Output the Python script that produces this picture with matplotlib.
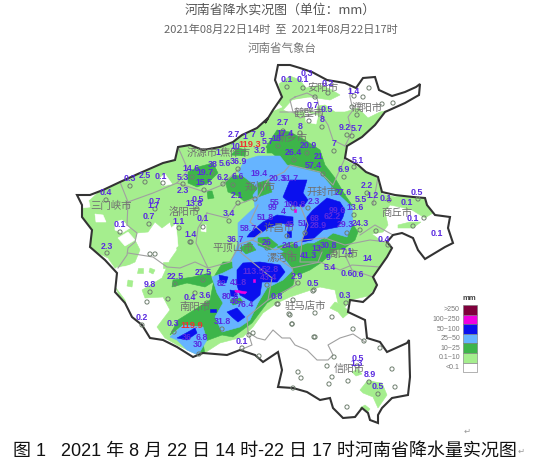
import matplotlib
matplotlib.use("Agg")
import matplotlib.pyplot as plt
from matplotlib.patches import Polygon, Rectangle

CJK = ['Noto Sans CJK SC', 'DejaVu Sans']
LATIN_CJK = ['Liberation Sans', 'Noto Sans CJK SC', 'DejaVu Sans']

COL_LG = '#A5EE8E'; COL_G = '#3DB54A'; COL_LB = '#66B4FF'; COL_B = '#0A10EE'; COL_M = '#F000E0'; COL_D = '#80003C'
COL_TXT = '#5A2BE0'; COL_CITY = '#707070'

province = [(278,65),(290,65),(300,68),(312,72),(327,80),(345,83),(356,88),(363,78),(375,77),(379,90),(392,96),(405,92),(416,87),(420,84),(419,95),(405,103),(385,112),(375,125),(362,137),(347,146),(345,158),(358,165),(366,172),(378,177),(382,192),(395,195),(413,197),(425,198),(427,205),(435,215),(450,217),(448,228),(453,243),(445,247),(425,259),(418,250),(413,238),(402,233),(393,235),(387,242),(392,248),(387,257),(380,267),(373,277),(377,285),(373,293),(363,302),(350,300),(348,312),(365,320),(367,338),(380,342),(387,352),(407,343),(409,340),(410,377),(408,395),(392,398),(382,408),(378,415),(378,423),(370,420),(368,413),(362,408),(355,417),(343,418),(333,408),(330,398),(320,400),(307,392),(293,388),(278,387),(282,370),(278,352),(263,362),(255,355),(240,350),(227,355),(203,353),(193,357),(177,347),(163,340),(150,338),(142,325),(132,317),(125,303),(115,292),(117,273),(105,260),(90,247),(92,230),(82,217),(82,205),(77,195),(90,195),(103,190),(120,182),(140,173),(163,163),(175,160),(178,147),(190,145),(203,150),(220,147),(233,142),(242,135),(257,128),(268,118),(265,123),(273,110),(282,97),(275,80)]

city_lines = [
 [(295,97),(307,93),(317,98),(320,112),(305,110),(293,112),(290,100),(295,97)],
 [(350,85),(350,97),(353,110),(348,117),(352,132),(345,146)],
 [(280,112),(293,112),(300,118),(320,112),(328,125),(333,140),(345,146)],
 [(127,225),(137,233),(135,242),(128,248),(127,255),(118,268)],
 [(128,253),(153,257),(167,267),(180,268),(195,262),(208,268)],
 [(128,202),(153,193),(177,183),(188,170),(178,147)],
 [(127,225),(128,202),(120,182)],
 [(177,183),(205,192),(222,185),(240,168)],
 [(207,213),(227,218),(236,205),(258,197),(268,180)],
 [(207,213),(198,228),(196,243),(208,268)],
 [(208,268),(230,262),(240,244),(252,240)],
 [(252,240),(262,232),(250,222),(258,205)],
 [(268,180),(284,172),(290,165),(320,172),(333,185),(345,158)],
 [(300,205),(308,225),(302,240),(325,238),(345,245),(370,240),(387,242)],
 [(252,240),(275,250),(302,240),(300,262),(318,262),(322,252)],
 [(277,258),(292,268),(320,262),(340,270),(352,265),(380,267)],
 [(240,252),(262,270),(272,278),(268,300),(247,317),(248,332),(252,345),(240,350)],
 [(292,268),(296,285),(268,300)],
 [(373,205),(378,177)],
 [(360,235),(375,225),(393,235)],
 [(248,332),(257,338),(265,340),(273,330),(282,338),(290,338),(295,345),(307,350),(317,360),(328,360),(333,355),(328,345),(340,338),(353,334),(365,342)],
 [(345,255),(352,270),(373,277)],
]

rain_light = [(279,84),(290,76),(300,80),(306,88),(320,85),(332,90),(340,95),(330,100),(310,97),(292,100),(283,110),(290,113),(305,108),(325,105),(335,112),(345,112),(358,108),(368,118),(380,112),(390,110),(372,128),(362,137),(347,146),(345,160),(358,167),(376,176),(382,194),(395,197),(400,196),(415,197),(425,198),(427,206),(433,213),(425,218),(412,210),(400,207),(390,205),(385,212),(388,225),(383,232),(372,234),(380,240),(387,243),(392,248),(387,257),(380,267),(375,272),(378,285),(368,296),(350,300),(345,307),(338,303),(335,290),(320,287),(290,297),(277,303),(263,313),(253,327),(243,337),(220,343),(200,356),(177,345),(165,338),(157,327),(170,310),(163,297),(145,298),(142,290),(162,278),(170,260),(177,250),(175,240),(170,222),(162,228),(155,222),(148,232),(137,233),(135,240),(140,250),(135,262),(122,268),(115,268),(108,258),(88,248),(88,232),(78,217),(78,205),(90,200),(103,188),(120,180),(140,171),(163,161),(175,158),(176,145),(190,143),(203,148),(220,145),(233,140),(242,133),(257,126),(270,116),(273,110),(282,97),(279,84)]
rain_light_extra = [
 [(335,302),(342,305),(350,312),(343,318),(338,312),(330,308)],
 [(360,390),(368,380),(375,382),(382,383),(387,395),(378,408),(373,397),(363,393)],
 [(360,408),(365,405),(370,409),(366,414)],
 [(352,372),(358,369),(362,374),(356,376)],
 [(398,225),(410,222),(421,222),(413,228),(398,228)],
 [(128,280),(133,281),(132,287),(127,286)],
 [(138,268),(143,268),(143,273),(137,273)],
 [(116,288),(125,300),(127,308),(120,298)],
 [(150,268),(155,270),(153,274),(149,272)],
 [(163,262),(168,262),(168,268),(163,268)],
]
rain_white = [
 [(78,200),(88,197),(90,207),(82,208)],
 [(95,214),(103,215),(106,222),(96,222)],
 [(115,222),(122,220),(130,228),(122,233),(115,230)],
 [(118,238),(128,232),(135,240),(125,246)],
 [(160,178),(165,174),(172,184),(162,186)],
 [(147,236),(165,233),(176,224),(178,246),(165,256),(150,250)],
 [(202,225),(206,225),(206,232),(201,231)],
 [(122,275),(132,265),(116,268)],
 [(295,100),(308,98),(318,100),(316,112),(303,111),(293,111)],
 [(260,97),(275,100),(282,107),(270,112)],
 [(305,112),(318,116),(316,124),(306,122)],
]
rain_mid = [
 [(266,147),(277,130),(290,132),(305,140),(320,150),(325,165),(335,178),(345,195),(352,205),(350,220),(358,232),(355,240),(345,248),(335,250),(322,262),(310,270),(298,275),(275,270),(262,250),(290,200),(290,170)],
 [(267,245),(283,243),(300,250),(296,272),(293,285),(287,290),(267,303),(252,323),(233,337),(222,335),(203,342),(205,355),(198,352),(180,327),(170,335),(178,320),(210,300),(215,275),(223,262),(237,262)],
 [(172,287),(173,280),(193,277),(210,273),(213,282),(205,287),(187,283)],
 [(188,172),(198,167),(213,163),(218,173),(208,183),(197,187),(188,183)],
 [(225,180),(235,175),(248,178),(265,182),(258,195),(245,202),(238,196),(228,192)],
 [(207,191),(212,191),(214,198),(208,199)],
 [(267,147),(283,143),(282,153),(267,153)],
 [(231,155),(238,148),(246,150),(245,156)],
]
rain_blue = [
 [(238,172),(245,160),(258,156),(280,156),(287,165),(320,173),(337,193),(352,207),(353,223),(347,237),(333,233),(320,243),(307,243),(297,247),(280,253),(293,270),(283,280),(267,288),(258,303),(250,320),(240,327),(222,332),(215,317),(223,303),(217,293),(212,277),(223,273),(233,268),(232,260),(238,243),(238,223),(255,207),(253,195),(258,188),(248,180)],
 [(170,337),(183,325),(203,327),(207,340),(198,355),(187,350),(177,340)],
]
rain_green_over = [
 [(258,183),(268,180),(272,192),(258,197)],
 [(258,238),(268,237),(278,245),(270,250),(258,245)],
 [(277,247),(292,242),(300,248),(288,254)],
 [(285,159),(292,157),(298,160),(291,163)],
 [(240,248),(250,242),(256,250),(246,254)],
 [(315,243),(325,238),(320,252),(312,250)],
 [(230,300),(240,298),(243,302),(233,305)],
]
rain_heavy = [
 [(283,197),(290,180),(307,180),(303,193),(308,200),(303,207),(292,205)],
 [(327,198),(340,202),(345,210),(343,217),(338,227),(323,230),(312,240),(302,242),(305,230),(307,217),(313,210)],
 [(250,233),(263,222),(277,215),(293,217),(293,225),(280,223),(268,228),(255,237),(247,237)],
 [(287,231),(291,231),(291,237),(287,237)],
 [(237,270),(243,263),(260,262),(280,265),(285,272),(277,282),(262,282),(260,295),(252,302),(240,295),(237,285)],
 [(227,312),(237,308),(245,317),(238,322),(232,317)],
 [(219,275),(228,277),(226,283),(220,282)],
 [(230,290),(236,291),(237,297),(231,296)],
 [(210,309),(216,309),(216,312),(210,312)],
 [(177,338),(188,332),(195,328),(197,333),(187,340)],
]
rain_extreme = [
 [(235,290),(247,292),(245,294),(235,292)],
 [(253,279),(255,279),(255,282),(253,282)],
 [(294,209),(296,209),(296,212),(294,212)],
]

value_labels = ['0.3','0.1','0.1','0.2','1.4','0.7','0.5','8','2.7','8','9.2','5.7','2.7','17.4','1','7','9','10','5.7','18','3.2','1','36.9','5.6','38','19.7','14.6','5.3','6.2','6.6','19.4','20.3','51.7','26.4','20.9','7','21','57.4','6.9','5.1','2.2','1.2','27.6','5.5','13.6','0.1','0.5','0.1','0.1','0.1','24.3','0.4','29.3','99.6','62.2','68','51','28.9','2.3','100.8','55','99','4','51.8','45','58.7','26','24.6','30.8','13','7.1','41.3','9','14','5.4','0.6','0.6','2.9','0.5','0.3','0.8','27.5','82','41.8','0.4','3.6','80.8','76.4','46','113.5','52.8','43.4','22.5','9.8','31.8','0.2','0.3','36','6.8','30','0.1','0.3','2.5','0.1','0.4','2.3','0.7','1.7','0.7','0.5','13.8','3.4','2.1','1.1','0.1','0.1','1.4','2.3','36.7','15.5','0.5','1.3','8.9','0.5']
value_x = [307,287,303,328,354,313,327,322,283,300,345,357,234,285,245,253,262,235,268,276,260,218,238,225,213,205,191,183,223,238,259,277,290,293,308,334,319,313,344,358,367,373,343,361,355,386,417,407,413,437,360,384,345,337,332,315,303,318,314,295,275,273,283,265,290,248,267,290,328,316,347,308,328,367,330,347,358,297,313,345,277,203,222,238,190,205,230,245,235,253,270,268,175,150,222,142,173,187,202,198,242,130,145,161,106,183,155,154,149,198,194,229,237,179,203,120,191,107,235,204,358,357,370,378]
value_y = [74,79,80,83,91,105,109,119,122,126,127,128,134,133,136,134,134,146,141,138,150,152,161,163,164,172,168,177,177,176,173,178,178,152,145,143,156,165,169,160,185,195,192,199,207,198,192,202,218,233,223,239,224,210,216,218,223,225,201,204,202,207,211,217,224,228,242,245,245,248,251,255,257,258,267,273,274,276,283,295,296,272,283,282,297,295,296,304,301,271,269,277,276,284,321,317,323,337,337,344,341,178,175,176,192,190,201,205,216,199,203,213,195,221,218,224,234,246,239,182,358,363,374,386]
red_labels = ['119.3','119.9']
red_x = [250,192]
red_y = [144,325]

station_x = [287,303,315,328,369,354,363,352,357,382,393,309,322,347,352,283,300,278,307,334,294,323,344,354,367,374,389,418,424,413,360,376,388,347,354,308,293,305,287,267,290,320,335,350,130,145,163,106,183,192,204,155,149,197,179,203,120,191,107,229,238,255,223,233,238,212,150,155,190,175,150,147,168,142,174,222,199,242,203,195,207,267,278,298,314,290,292,314,253,249,259,293,289,292,315,332,353,315,364,380,334,327,298,301,293,332,329,348,369,378,392,395,347,346,313,277,357]
station_y = [87,88,97,93,88,96,97,107,115,104,103,121,127,135,136,131,133,146,153,151,160,174,177,167,193,203,200,199,218,226,230,231,245,233,215,208,208,233,236,248,253,250,253,255,186,182,183,200,184,177,190,209,224,209,228,227,232,242,253,221,203,199,184,185,169,173,254,254,242,284,292,302,299,325,332,329,354,348,280,293,303,285,304,283,290,315,324,337,333,335,356,300,314,324,313,317,329,337,341,348,357,366,372,378,388,377,384,381,382,394,369,387,407,303,291,304,366]

city_names = ['安阳市','濮阳市','鹤壁市','新乡市','焦作市','济源市','郑州市','开封市','商丘市','三门峡市','洛阳市','许昌市','平顶山市','漯河市','周口市','南阳市','驻马店市','信阳市']
city_x = [323,367,309,292,235,202,260,322,397,111,184,279,233,282,343,195,305,349]
city_y = [88,108,113,138,153,153,187,192,213,206,212,228,248,258,254,307,306,370]

legend_title = 'mm'
legend_labels = ['>250','100~250','50~100','25~50','10~25','0.1~10','<0.1']
legend_colors = [COL_D, COL_M, COL_B, COL_LB, COL_G, COL_LG, '#FFFFFF']

title = '河南省降水实况图（单位：mm）'
subtitle = '2021年08月22日14时  至  2021年08月22日17时'
agency = '河南省气象台'
caption = '图 1   2021 年 8 月 22 日 14 时-22 日 17 时河南省降水量实况图'

fig = plt.figure(figsize=(5.54, 4.65), dpi=100)
ax = fig.add_axes([0, 0, 1, 1])
ax.set_xlim(0, 554); ax.set_ylim(465, 0); ax.axis('off')

clip = Polygon(province, closed=True, transform=ax.transData, fc='none', ec='none')
ax.add_patch(clip)

def layer(polys, color, z):
    for p in polys:
        patch = Polygon(p, closed=True, fc=color, ec=color, lw=0.4, zorder=z)
        ax.add_patch(patch)
        patch.set_clip_path(clip)

layer([rain_light] + rain_light_extra, COL_LG, 1)
layer(rain_white, '#FFFFFF', 1.5)
layer(rain_mid, COL_G, 2)
layer(rain_blue, COL_LB, 3)
layer(rain_green_over, COL_G, 3.5)
layer(rain_heavy, COL_B, 4)
layer(rain_extreme, COL_M, 5)

for line in city_lines:
    ax.plot(*zip(*line), color='#a0a0a0', lw=0.8, zorder=6)
ax.add_patch(Polygon(province, closed=True, fc='none', ec='#333333', lw=1.5, zorder=7))

ax.scatter(station_x, station_y, s=9, facecolors='none', edgecolors='#6f7f6f', linewidths=0.7, zorder=8)

for s, x, y in zip(city_names, city_x, city_y):
    ax.text(x, y, s, family=CJK, fontsize=7.5, color=COL_CITY, ha='center', va='center', zorder=9)
for s, x, y in zip(value_labels, value_x, value_y):
    ax.text(x, y, s, family='Liberation Sans', fontweight='bold', fontsize=6.4, color=COL_TXT, ha='center', va='center', zorder=10)
for s, x, y in zip(red_labels, red_x, red_y):
    ax.text(x, y, s, family='Liberation Sans', fontweight='bold', fontsize=6.6, color='#F03030', ha='center', va='center', zorder=11)

ax.text(280, 10, title, family=CJK, fontsize=9.3, color='#555555', ha='center', va='center')
ax.text(281, 30, subtitle, family=CJK, fontsize=8.0, color='#666666', ha='center', va='center')
ax.text(282, 48, agency, family=CJK, fontsize=8.3, color='#777777', ha='center', va='center')

ax.text(469, 298, legend_title, family='Liberation Sans', fontweight='bold', fontsize=5.5, color='#444444', ha='center', va='center')
for i, (lab, col) in enumerate(zip(legend_labels, legend_colors)):
    y0 = 305 + i * 9.6
    ax.add_patch(Rectangle((463, y0), 14, 9.6, fc=col, ec='#777777', lw=0.4))
    ax.text(460, y0 + 4.8, lab, family='Liberation Sans', fontsize=5, color='#777777', ha='right', va='center')

ax.text(13, 451, caption, family=LATIN_CJK, fontsize=13, color='#111111', ha='left', va='center')
ax.text(467, 431, '↵', family='DejaVu Sans', fontsize=6, color='#999999', ha='center', va='center')
ax.text(521, 451, '↵', family='DejaVu Sans', fontsize=6, color='#999999', ha='center', va='center')

fig.savefig('out.png', dpi=100)
